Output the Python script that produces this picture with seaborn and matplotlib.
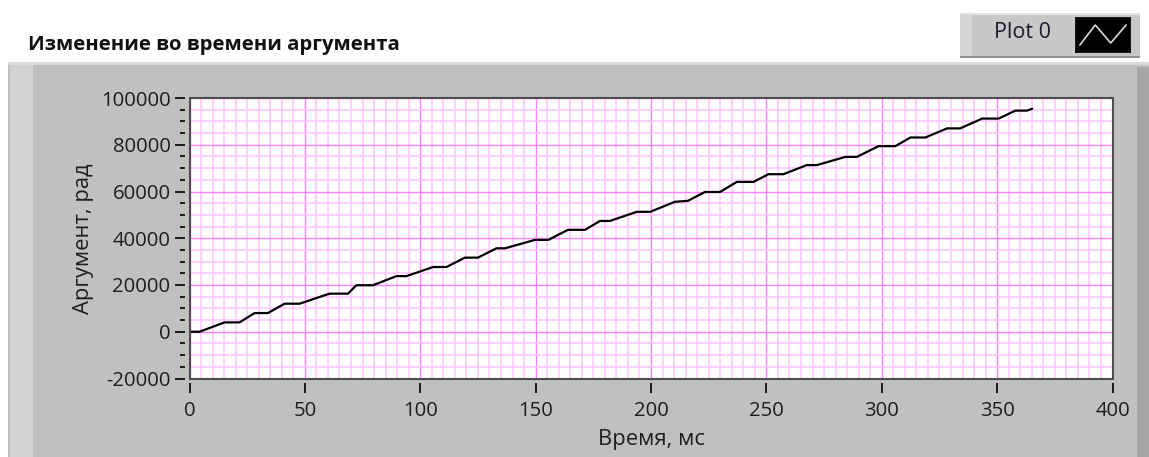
import matplotlib
matplotlib.use("Agg")
import matplotlib.pyplot as plt
import pandas as pd
import seaborn as sns
from matplotlib.patches import Rectangle
from matplotlib.ticker import MultipleLocator, FixedLocator

# Phase argument samples (time in ms, argument in rad)
time_ms = [0, 4.3, 15.2, 21.7, 28.2, 34.0, 41.2, 47.7, 60.7, 68.7, 72.3, 79.5,
           89.7, 94.0, 105.6, 111.4, 119.3, 125.0, 133.0, 136.7, 149.7, 155.5,
           164.0, 171.4, 177.9, 182.2, 193.8, 199.6, 210.4, 216.0, 223.4, 229.9,
           237.2, 244.4, 250.9, 257.4, 267.5, 271.9, 284.2, 289.2, 298.6, 305.9,
           312.4, 318.9, 328.3, 334.0, 343.5, 350.7, 357.9, 363.0, 365.2]
argument_rad = [0, 0, 4000, 4000, 8000, 8000, 12000, 12000, 16300, 16300,
                19900, 19900, 23800, 23800, 27700, 27700, 31700, 31700, 35700,
                35700, 39300, 39300, 43600, 43600, 47400, 47400, 51300, 51300,
                55600, 56000, 59800, 59800, 64100, 64100, 67400, 67400, 71300,
                71300, 74800, 74800, 79400, 79400, 83100, 83100, 87000, 87000,
                91200, 91200, 94600, 94600, 95400]

x_ticks = [0, 50, 100, 150, 200, 250, 300, 350, 400]
y_ticks = [-20000, 0, 20000, 40000, 60000, 80000, 100000]

title_text = "Изменение во времени аргумента"
x_label = "Время, мс"
y_label = "Аргумент, рад"
legend_label = "Plot 0"

sns.set_theme(style="white")
plt.rcParams["font.family"] = ["Open Sans", "DejaVu Sans"]

W, H = 1149, 457
fig = plt.figure(figsize=(W / 100, H / 100), dpi=100, facecolor="white")


def px_rect(x0, y0, x1, y1, color, z=0, **kw):
    """Rectangle given in pixel coords measured from the top-left corner."""
    r = Rectangle((x0 / W, 1 - y1 / H), (x1 - x0) / W, (y1 - y0) / H,
                  transform=fig.transFigure, facecolor=color, edgecolor="none",
                  zorder=z, **kw)
    fig.add_artist(r)
    return r


# Graph panel with bevelled edges
px_rect(8, 62, 1149, 457, "#c0c0c0", z=0)
px_rect(8, 62, 1149, 65, "#dadada", z=0.1)
px_rect(10, 65, 33, 457, "#d2d2d2", z=0.1)
px_rect(1137, 67, 1149, 457, "#a6a6a6", z=0.1)

# Legend box
px_rect(960, 13, 1140, 58, "#c8c8c8", z=0.2)
px_rect(960, 13, 1140, 15, "#e2e2e2", z=0.3)
px_rect(960, 15, 972, 56, "#d6d6d6", z=0.3)
px_rect(960, 56, 1140, 58, "#8e8e8e", z=0.3)
fig.text(1023 / W, 1 - 33 / H, legend_label, ha="center", va="center",
         fontsize=15.5, color="#1c1c2c", zorder=1)
icon = fig.add_axes([1076 / W, 1 - 52 / H, 54 / W, 34 / H], zorder=1)
icon.set_facecolor("black")
icon.plot([0, 1, 2, 3], [0, 1, 0.1, 1], color="#d8d8d8", lw=1.2)
icon.set_xlim(-0.25, 3.25)
icon.set_ylim(-0.35, 1.35)
icon.set_xticks([])
icon.set_yticks([])
for s in icon.spines.values():
    s.set_color("black")

# Title
fig.text(28 / W, 1 - 45 / H, title_text, ha="left", va="center",
         fontsize=14.6, fontweight="bold", color="#111111")

# Plot area
left, right, top, bottom = 189.5, 1112.5, 98.0, 378.5
ax = fig.add_axes([left / W, 1 - bottom / H, (right - left) / W, (bottom - top) / H],
                  zorder=2)
ax.set_facecolor("white")

df = pd.DataFrame({"time": time_ms, "arg": argument_rad})
sns.lineplot(data=df, x="time", y="arg", ax=ax, color="black", lw=1.6,
             estimator=None, sort=False, zorder=3)

ax.set_xlim(0, 400)
ax.set_ylim(-20000, 100000)
ax.xaxis.set_major_locator(FixedLocator(x_ticks))
ax.yaxis.set_major_locator(FixedLocator(y_ticks))
ax.xaxis.set_minor_locator(MultipleLocator(5))
ax.yaxis.set_minor_locator(MultipleLocator(5000))
ax.set_xticklabels([str(v) for v in x_ticks])
ax.set_yticklabels([str(v) for v in y_ticks])

ax.set_axisbelow(True)
ax.grid(which="minor", color="#ffc4ff", lw=1.1)
ax.grid(which="major", color="#ff80ff", lw=1.0)

for name, sp in ax.spines.items():
    sp.set_color("none")
ax.spines["left"].set_position(("outward", 3))
ax.spines["bottom"].set_position(("outward", 3))

ax.add_patch(Rectangle((0, 0), 1, 1, transform=ax.transAxes, fill=False,
                       edgecolor="#4d4d4d", lw=1.5, clip_on=False, zorder=5))

ax.tick_params(axis="both", which="major", direction="out", length=7.2,
               width=1.4, color="#1a1a1a", labelsize=14.6, labelcolor="#1e1e1e")
ax.tick_params(axis="y", which="major", pad=3.4, left=True)
ax.tick_params(axis="x", which="major", pad=5.8, bottom=True)
ax.tick_params(axis="y", which="minor", direction="out", length=3.6,
               width=1.4, color="#1a1a1a", left=True)
ax.tick_params(axis="x", which="minor", length=0)

ax.set_xlabel(x_label, fontsize=15.8, color="#1e1e1e", labelpad=6)
ax.set_ylabel(y_label, fontsize=15.8, color="#1e1e1e", labelpad=5)

fig.savefig("out.png", dpi=100, facecolor="white")
